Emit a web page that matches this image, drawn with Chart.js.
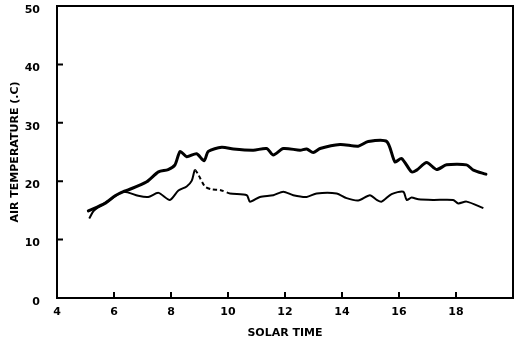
<!DOCTYPE html>
<html>
<head>
<meta charset="utf-8">
<script src="https://cdn.jsdelivr.net/npm/chart.js@4"></script>
<style>
  html, body { margin: 0; padding: 0; background: #fff; }
</style>
</head>
<body>
<canvas id="chart" width="519" height="346"></canvas>
<script>
// solid curve (upper) - solar time / air temperature
const upperTimes = [5.1, 5.68, 6.04, 6.33, 6.5, 7.15, 7.56, 7.9, 8.14, 8.32, 8.55, 8.9, 9.16, 9.31, 9.78, 10.19, 10.89, 11.36, 11.59, 11.94, 12.53, 12.76, 12.99, 13.23, 13.93, 14.57, 14.92, 15.57, 15.86, 16.09, 16.44, 16.62, 16.97, 17.32, 17.67, 18.37, 18.61, 19.05]
const upperTemps = [14.9, 16.2, 17.5, 18.2, 18.5, 19.9, 21.6, 22.0, 22.8, 25.1, 24.2, 24.7, 23.5, 25.1, 25.8, 25.5, 25.3, 25.6, 24.5, 25.6, 25.3, 25.5, 24.9, 25.6, 26.3, 26.0, 26.8, 26.8, 23.3, 23.9, 21.6, 21.9, 23.2, 22.0, 22.8, 22.8, 21.9, 21.2]

// dashed curve (lower)
const lowerTimes = [5.13, 5.3, 5.8, 6.33, 6.85, 7.2, 7.56, 7.96, 8.26, 8.55, 8.73, 8.84, 8.96, 9.19, 9.43, 9.72, 10.07, 10.66, 10.77, 11.12, 11.59, 11.94, 12.29, 12.76, 13.11, 13.81, 14.16, 14.57, 14.98, 15.22, 15.39, 15.74, 16.15, 16.27, 16.44, 16.68, 17.2, 17.9, 18.08, 18.37, 18.96]
const lowerTemps = [13.6, 15.0, 16.6, 18.2, 17.5, 17.3, 18.0, 16.8, 18.4, 19.1, 20.1, 21.9, 21.1, 19.1, 18.6, 18.5, 17.9, 17.6, 16.5, 17.3, 17.6, 18.2, 17.6, 17.3, 17.9, 17.9, 17.1, 16.7, 17.6, 16.8, 16.5, 17.8, 18.2, 16.8, 17.2, 16.9, 16.8, 16.8, 16.2, 16.5, 15.4]

const xTicks = [4, 6, 8, 10, 12, 14, 16, 18]
const yTicks = [0, 10, 20, 30, 40, 50]

const toPoints = (xs, ys) => xs.map((x, i) => ({ x: x, y: ys[i] }))

// box round the plot, short ticks pointing inwards
const framePlugin = {
  id: 'frame',
  afterDraw(chart) {
    const { ctx, chartArea: a, scales } = chart
    ctx.save()
    ctx.strokeStyle = '#000'
    ctx.lineWidth = 2
    ctx.strokeRect(a.left, a.top, a.right - a.left, a.bottom - a.top)
    ctx.beginPath()
    xTicks.forEach(v => {
      if (v === 4) return
      const px = scales.x.getPixelForValue(v)
      ctx.moveTo(px, a.bottom)
      ctx.lineTo(px, a.bottom - 6)
    })
    yTicks.forEach(v => {
      if (v === 0 || v === 50) return
      const py = scales.y.getPixelForValue(v)
      ctx.moveTo(a.left, py)
      ctx.lineTo(a.left + 6, py)
    })
    ctx.stroke()
    ctx.restore()
  }
}

const tickFont = { family: 'DejaVu Sans', size: 11, weight: 'bold' }
const titleFont = { family: 'DejaVu Sans', size: 11, weight: 'bold' }

new Chart(document.getElementById('chart'), {
  type: 'line',
  data: {
    datasets: [
      {
        label: 'upper',
        data: toPoints(upperTimes, upperTemps),
        borderColor: '#000',
        borderWidth: 3,
        pointRadius: 0,
        tension: 0.25,
        borderJoinStyle: 'round',
        borderCapStyle: 'round'
      },
      {
        label: 'lower',
        data: toPoints(lowerTimes, lowerTemps),
        borderColor: '#000',
        borderWidth: 2,
        pointRadius: 0,
        tension: 0.25,
        borderJoinStyle: 'round',
        segment: {
          borderDash: c => (c.p0.parsed.x >= 8.84 && c.p0.parsed.x < 10) ? [4, 3] : undefined
        }
      }
    ]
  },
  options: {
    responsive: false,
    animation: false,
    layout: { padding: { top: 6, right: 6, left: 0, bottom: 0 } },
    plugins: {
      legend: { display: false },
      tooltip: { enabled: false }
    },
    scales: {
      x: {
        type: 'linear',
        min: 4,
        max: 20,
        afterFit: s => { s.height = 48; s.paddingLeft = 0; s.paddingRight = 0 },
        afterBuildTicks: s => { s.ticks = xTicks.map(v => ({ value: v })) },
        grid: { display: false },
        border: { display: false },
        ticks: {
          color: '#000',
          font: tickFont,
          padding: 0,
          maxRotation: 0
        },
        title: {
          display: true,
          text: 'SOLAR TIME',
          color: '#000',
          font: titleFont,
          padding: { top: 0, bottom: 6 }
        }
      },
      y: {
        min: 0,
        max: 50,
        afterFit: s => { s.width = 57; s.paddingTop = 0; s.paddingBottom = 0 },
        afterBuildTicks: s => { s.ticks = yTicks.map(v => ({ value: v })) },
        grid: { display: false },
        border: { display: false },
        ticks: {
          color: '#000',
          font: tickFont,
          padding: 9,
          labelOffset: 4
        },
        title: {
          display: true,
          text: 'AIR TEMPERATURE (.C)',
          color: '#000',
          font: titleFont,
          padding: { top: 9, bottom: 0 }
        }
      }
    }
  },
  plugins: [framePlugin]
})
</script>
</body>
</html>
